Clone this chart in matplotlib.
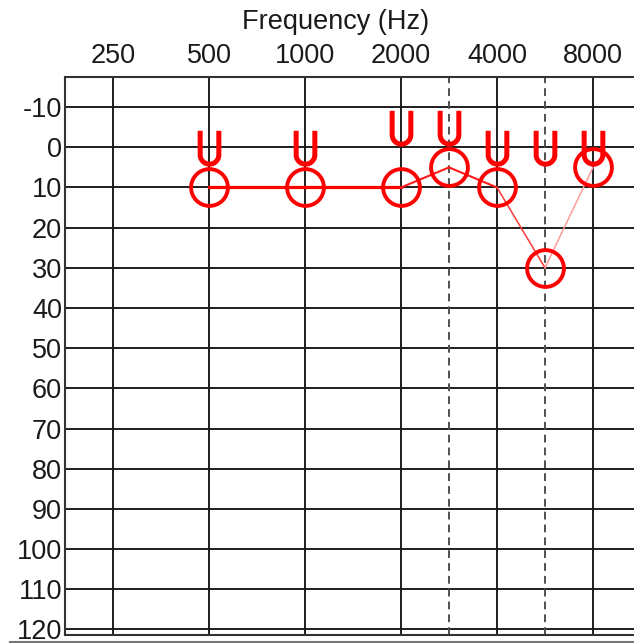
import matplotlib
matplotlib.use("Agg")
import matplotlib.pyplot as plt
from matplotlib.path import Path
from matplotlib.lines import Line2D
import numpy as np

plt.rcParams['font.family'] = ['Liberation Sans', 'DejaVu Sans']

# 听力图数据 (dB HL)
freqs = [500, 1000, 2000, 3000, 4000, 6000, 8000]
air_db = [10, 10, 10, 5, 10, 30, 5]
u_freqs = [500, 1000, 2000, 3000, 4000, 6000, 8000]
u_db = [0, 0, -5, -5, 0, 0, 0]

tick_freqs = [250, 500, 1000, 2000, 4000, 8000]
tick_labels = ["250", "500", "1000", "2000", "4000", "8000"]
mid_freqs = [3000, 6000]
db_ticks = list(range(-10, 121, 10))

# 连线每段的粗细和颜色
seg_widths = [2.3, 2.3, 1.5, 1.5, 1.1, 1.1]
seg_colors = ["#ff0000", "#ff0000", "#ff1a1a", "#ff1a1a", "#ff3a3a", "#ff9a9a"]

# 听力图横轴: 倍频程等距, 3000/6000 放在两倍频程正中间
_f_ref = np.log2([125, 250, 500, 1000, 2000, 3000, 4000, 6000, 8000, 16000])
_x_ref = np.array([-1, 0, 1, 2, 3, 3.5, 4, 4.5, 5, 6])


def f2x(f):
    f = np.clip(np.asarray(f, dtype=float), 1e-6, None)
    return np.interp(np.log2(f), _f_ref, _x_ref)


def x2f(x):
    return 2 ** np.interp(np.asarray(x, dtype=float), _x_ref, _f_ref)


W, H = 634, 643
fig = plt.figure(figsize=(W / 100, H / 100), dpi=100)
ax = fig.add_axes([65 / W, 8 / H, 576 / W, 558 / H])

ax.set_xscale("function", functions=(f2x, x2f))
ax.set_xlim(x2f(-0.5), x2f(5.5))
ax.set_ylim(121.4, -17.5)

grid_kw = dict(color="#1e1e1e", linewidth=1.4, zorder=1)
for f in tick_freqs:
    ax.axvline(f, **grid_kw)
for d in db_ticks:
    ax.axhline(d, **grid_kw)
for f in mid_freqs:
    ax.axvline(f, color="#505050", linewidth=1.4, dashes=(4.0, 2.6), zorder=1)

ax.xaxis.tick_top()
ax.set_xticks(tick_freqs)
ax.set_xticklabels(tick_labels)
ax.xaxis.set_minor_locator(matplotlib.ticker.NullLocator())
ax.set_yticks(db_ticks)
ax.set_yticklabels([str(d) for d in db_ticks])
ax.tick_params(axis="x", length=0, pad=6, labelsize=19.5, colors="#1a1a1a")
ax.tick_params(axis="y", length=0, pad=2, labelsize=19.5, colors="#1a1a1a")

for s in ax.spines.values():
    s.set_color("#333333")
    s.set_linewidth(1.5)

# 气导连线
for i in range(len(freqs) - 1):
    ax.plot(freqs[i:i + 2], air_db[i:i + 2], color=seg_colors[i],
            linewidth=seg_widths[i], zorder=3)

# 右耳气导 O
ax.plot(freqs, air_db, linestyle="none", marker="o", markersize=26.5,
        markerfacecolor="none", markeredgecolor="#ff0000",
        markeredgewidth=2.8, zorder=4)

# U 形符号
hw = 0.56
arc_t = np.linspace(np.pi, 2 * np.pi, 25)
verts = [(-hw, 1.0)] + [(hw * np.cos(t), -1 + hw + hw * np.sin(t)) for t in arc_t] + [(hw, 1.0)]
u_path = Path(verts, [Path.MOVETO] + [Path.LINETO] * (len(verts) - 1))
ax.plot(u_freqs, u_db, linestyle="none", marker=u_path, markersize=24,
        markerfacecolor="none", markeredgecolor="#ff0000",
        markeredgewidth=3.6, zorder=5)

fig.text(336 / W, 1 - 22 / H, "Frequency (Hz)", ha="center", va="center",
         fontsize=19.5, color="#1a1a1a")

fig.add_artist(Line2D([10 / W, 1], [1.2 / H, 1.2 / H], transform=fig.transFigure,
                      color="#777777", linewidth=1.5))

fig.savefig("out.png", dpi=100)
